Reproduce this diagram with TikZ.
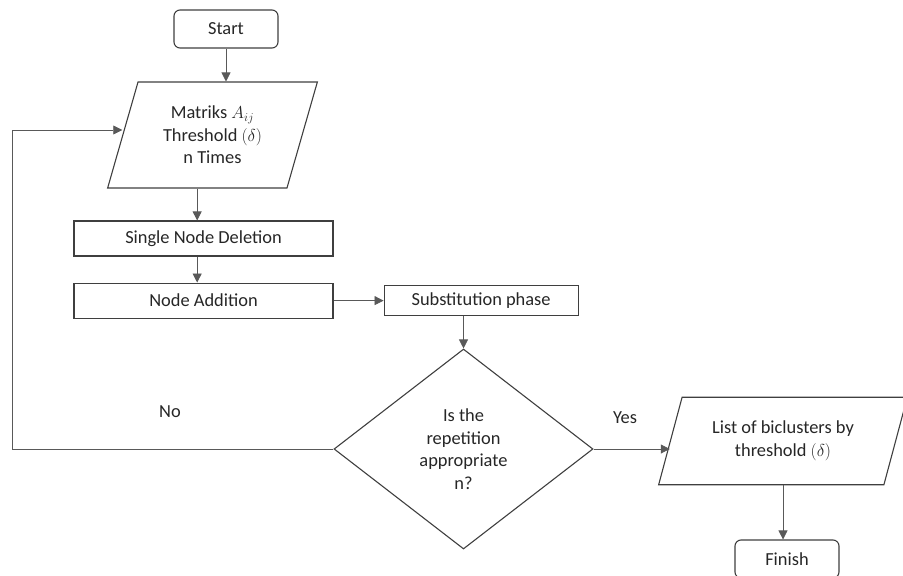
\documentclass[tikz,border=0pt]{standalone}
\usepackage{fontspec}
\setmainfont{Carlito}
\usepackage{tikz}
\usetikzlibrary{arrows.meta,positioning,shapes.geometric}
\definecolor{EdgeGray}{HTML}{3F3F3F}
\definecolor{LineGray}{HTML}{595959}
\definecolor{TextDark}{HTML}{262626}

\begin{document}
\begin{tikzpicture}[
  x=1pt,y=-1pt,
  every node/.style={font=\fontsize{18.4}{22.5}\selectfont,align=center,text=TextDark},
  term/.style={draw=EdgeGray,line width=1.1pt,rounded corners=6pt,minimum width=104pt,minimum height=38pt,inner sep=0pt},
  proc/.style={draw=EdgeGray,line width=1.1pt,minimum width=259pt,minimum height=35pt,inner sep=0pt},
  io/.style={draw=EdgeGray,line width=1.1pt,trapezium,trapezium left angle=74,trapezium right angle=106},
  decide/.style={draw=EdgeGray,line width=1.1pt,diamond,minimum width=259pt,minimum height=200pt,inner sep=0pt},
  arrow/.style={-{Triangle[length=9pt,width=9pt]},line width=0.8pt,color=LineGray}
]
\useasboundingbox (0,0) rectangle (903,576);
\node[term] (start) at (226,29) {Start};
\node[io,inner xsep=25pt,inner ysep=24pt] (input) at (212.5,135) {Matriks $A_{ij}$\\Threshold $(\delta)$\\n Times};
\node[proc] (deletion) at (203.5,238.5) {Single Node Deletion};
\node[proc,below=26pt of deletion] (addition) {Node Addition};
\node[proc,minimum width=194pt,minimum height=30pt,right=50pt of addition] (subst) {Substitution phase};
\node[decide] (decision) at (463.5,449) {Is the\\repetition\\appropriate\\n?};
\node[io,inner xsep=30pt,inner ysep=24pt,trapezium left angle=75,trapezium right angle=105] (output) at (783,441) {List of biclusters by\\threshold $(\delta)$};
\node[term] (finish) at (787,559) {Finish};
\node (nolabel) at (170,412) {No};
\node (yeslabel) at (625,418) {Yes};
\coordinate (loopleft) at (12,130);
\draw[arrow] (start) -- (start.south |- input.north);
\draw[arrow] (input.bottom side) -- (input.bottom side |- deletion.north);
\draw[arrow] (input.bottom side |- deletion.south) -- (input.bottom side |- addition.north);
\draw[arrow] (addition) -- (subst);
\draw[arrow] (decision.north |- subst.south) -- (decision.north);
\draw[arrow] (decision.east) -- (decision.east -| output.left side);
\draw[arrow] (output.south) -- (output.south |- finish.north);
\draw[arrow] (decision.west) -| (loopleft) -- (loopleft -| input.left side);
\end{tikzpicture}
\end{document}
